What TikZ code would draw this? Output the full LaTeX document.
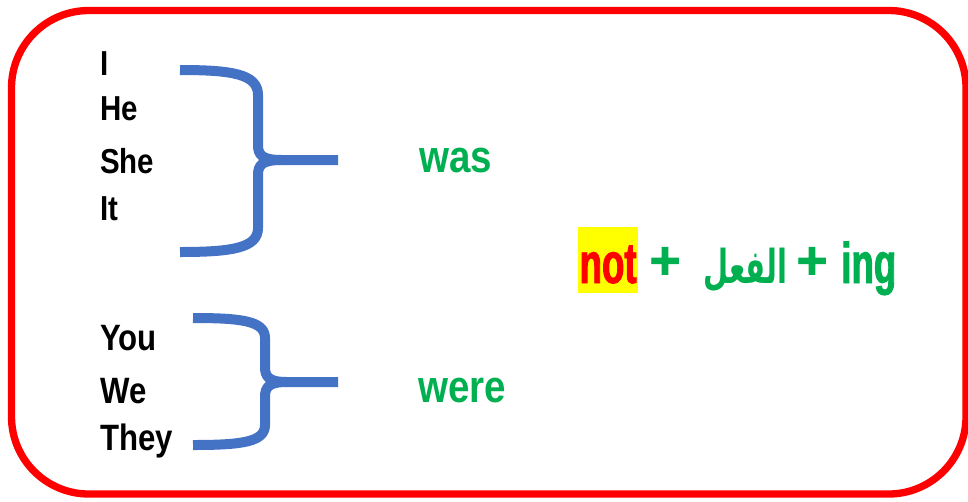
\documentclass[tikz,border=0pt]{standalone}
\usepackage{fontspec}
\setmainfont[FakeStretch=0.85]{Liberation Sans}
\newfontfamily\formfont[FakeStretch=0.64, FakeBold=1.6]{Liberation Sans}
\newfontfamily\plusfont[FakeBold=1.5]{Liberation Sans}
\newfontfamily\arabicfont[Script=Arabic, FakeStretch=0.62]{DejaVu Sans}
\TeXXeTstate=1
\definecolor{frame}{HTML}{FF0000}
\definecolor{bracecol}{HTML}{4472C4}
\definecolor{verb}{HTML}{00B050}
\definecolor{mark}{HTML}{FFFF00}
\tikzset{
  pron/.style={anchor=base west, inner sep=0pt, font=\bfseries\fontsize{26pt}{30pt}\selectfont},
  pronb/.style={pron, font=\bfseries\fontsize{27.5pt}{31pt}\selectfont},
  aux/.style={anchor=base, inner sep=0pt, text=verb, font=\bfseries\fontsize{34pt}{38pt}\selectfont},
  form/.style={anchor=base west, inner sep=0pt, text=verb, font=\formfont\bfseries\fontsize{43pt}{48pt}\selectfont},
  plus/.style={anchor=center, inner sep=0pt, text=verb, font=\plusfont\bfseries\fontsize{40pt}{44pt}\selectfont},
  brace/.style={draw=bracecol, line width=7.5pt, line join=round}
}
\begin{document}
\begin{tikzpicture}[x=0.75pt, y=-0.75pt]
			\useasboundingbox (0,0) rectangle (968,501);
			% frame
			\draw[frame, line width=5.5pt, rounded corners=58pt] (11.5,10.5) rectangle (966,494);

			% singular group
			\node[pron] (i) at (100,75) [] {I};
			\node[pron] (he) at (100,120) [] {He};
			\node[pron] (she) at (100,173) [] {She};
			\node[pron] (it) at (100,220) [] {It};
			\draw[brace] (180,70) .. controls (232,70) and (258,74) .. (258,95) -- (258,145)
				.. controls (258,155) and (262,160) .. (282,160) -- (338,160);
			\draw[brace] (180,252) .. controls (232,252) and (258,248) .. (258,228) -- (258,175)
				.. controls (258,165) and (262,160) .. (282,160);
			\node[aux] (was) at (456,172) [] {was};

			% plural group
			\node[pronb] (you) at (100,350) [] {You};
			\node[pronb] (we) at (100,403) [] {We};
			\node[pronb] (they) at (100,450) [] {They};
			\draw[brace] (193,318) .. controls (242,318) and (265,321) .. (265,338) -- (265,367)
				.. controls (265,377) and (269,382) .. (287,382) -- (338,382);
			\draw[brace] (193,445) .. controls (242,445) and (265,442) .. (265,425) -- (265,397)
				.. controls (265,387) and (269,382) .. (287,382);
			\node[aux] (were) at (462,402) [] {were};

			% formula
			\node[form, text=frame, fill=mark, inner xsep=1pt, text height=42pt, text depth=7.5pt] (not) at (578,283) [] {not};
			\node[plus] (plus1) at (665,263) [] {+};
			\node[form, font=\arabicfont\bfseries\fontsize{35pt}{40pt}\selectfont] (verbword) at (703,283) [] {\beginR الفعل\endR};
			\node[plus] (plus2) at (812,263) [] {+};
			\node[form] (ing) at (841,283) [] {ing};
		\end{tikzpicture}
\end{document}
